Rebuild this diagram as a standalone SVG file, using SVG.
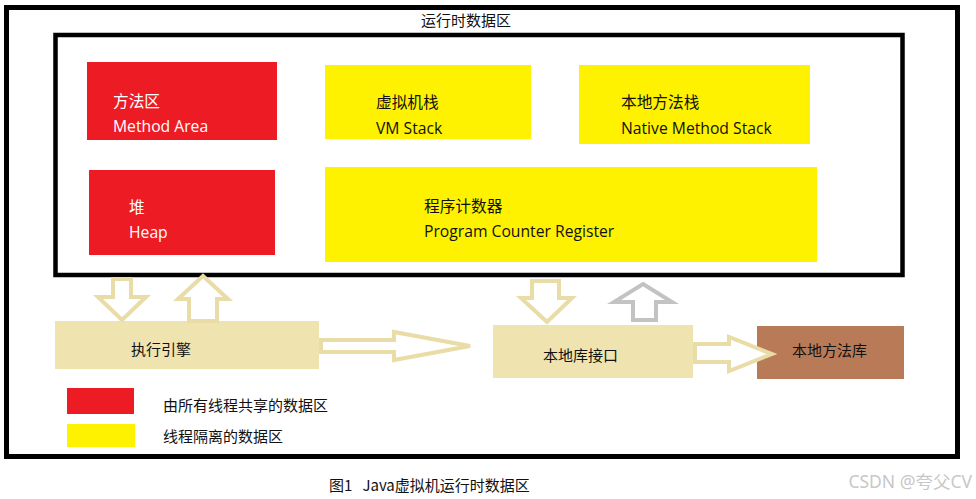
<svg xmlns="http://www.w3.org/2000/svg" width="976" height="499" viewBox="0 0 976 499">
<style>
.t{font-family:"Open Sans","Noto Sans CJK SC",sans-serif;font-size:15.7px}
.w{fill:#ffffff}
.k{fill:#111111}
.c{font-family:"Noto Sans CJK SC","Noto Sans",sans-serif;font-size:15px;fill:#111111}
.red{fill:#ed1c24}
.yel{fill:#fff200}
.beige{fill:#efe4b0}
.arr{fill:#ffffff;stroke:#e9dca6;stroke-width:4;stroke-linejoin:miter}
.garr{fill:#ffffff;stroke:#c3c3c3;stroke-width:4;stroke-linejoin:miter}
</style>
<rect width="976" height="499" fill="#ffffff"/>
<rect x="6.5" y="7.5" width="951" height="449" fill="none" stroke="#000" stroke-width="5"/>
<text x="466" y="26" class="c" text-anchor="middle">运行时数据区</text>
<rect x="55.5" y="35" width="847" height="240" fill="none" stroke="#000" stroke-width="4.5"/>
<g id="method-area">
<rect class="red" x="87" y="62" width="190" height="78"/>
<text class="t w" x="113" y="107">方法区</text>
<text class="t w" x="113" y="132">Method Area</text>
</g>
<g id="heap">
<rect class="red" x="89" y="170" width="186" height="85"/>
<text class="t w" x="129" y="213">堆</text>
<text class="t w" x="129" y="238">Heap</text>
</g>
<g id="vm-stack">
<rect class="yel" x="325" y="65" width="206" height="74"/>
<text class="t k" x="376" y="108">虚拟机栈</text>
<text class="t k" x="376" y="134">VM Stack</text>
</g>
<g id="native-method-stack">
<rect class="yel" x="579" y="65" width="231" height="79"/>
<text class="t k" x="621" y="108">本地方法栈</text>
<text class="t k" x="621" y="134">Native Method Stack</text>
</g>
<g id="pc-register">
<rect class="yel" x="325" y="167" width="492" height="95"/>
<text class="t k" x="424" y="212">程序计数器</text>
<text class="t k" x="424" y="237">Program Counter Register</text>
</g>
<g id="execution-engine">
<rect class="beige" x="55" y="321" width="264" height="48"/>
<text class="t k" x="131" y="355" style="font-size:15px">执行引擎</text>
</g>
<g id="native-interface">
<rect class="beige" x="493" y="325" width="200" height="53"/>
<text class="t k" x="543" y="361" style="font-size:15px">本地库接口</text>
</g>
<g id="native-library">
<rect fill="#b97a57" x="757" y="326" width="147" height="53"/>
<text class="t k" x="792" y="356" style="font-size:15px">本地方法库</text>
</g>
<g id="connectors">
<polygon class="arr" points="113,279 131,279 131,297 146,297 122,320 98,297 113,297"/>
<polygon class="arr" points="203,276 228,299 217,299 217,321 189,321 189,299 178,299"/>
<polygon class="arr" points="321,340 394,340 394,332 470,346 394,360 394,352 321,352"/>
<polygon class="arr" points="532,281 559,281 559,298 572,298 547,322 521,298 532,298"/>
<polygon class="garr" points="643,284 672,302 656,302 656,320 633,320 633,302 614,302"/>
<polygon class="arr" points="695,344 729,344 729,337 772,354 729,371 729,362 695,362"/>
</g>
<g id="legend">
<rect class="red" x="67" y="388" width="67" height="26"/>
<text class="c" x="163" y="411">由所有线程共享的数据区</text>
<rect class="yel" x="67" y="424" width="68" height="23"/>
<text class="c" x="163" y="442">线程隔离的数据区</text>
</g>
<text class="c" x="329" y="491" style="font-size:15px" xml:space="preserve">图1   Java虚拟机运行时数据区</text>
<text x="972" y="488" text-anchor="end" style="font-family:'Noto Sans','Noto Sans CJK SC',sans-serif;font-size:17.5px;fill:#c8c8c8">CSDN @夸父CV</text>
</svg>
